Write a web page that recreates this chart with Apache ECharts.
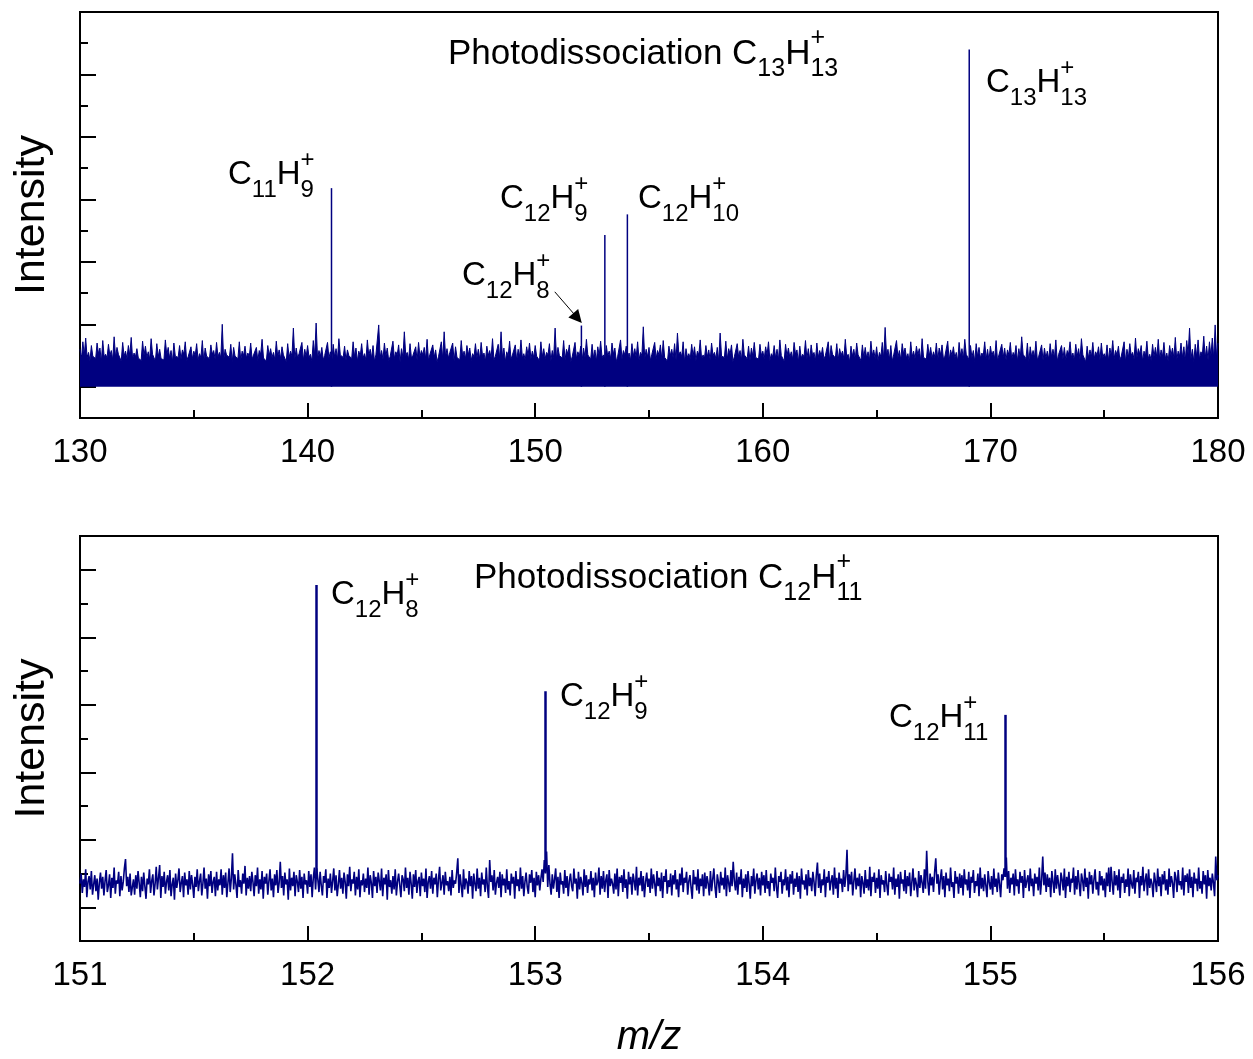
<!DOCTYPE html>
<html><head><meta charset="utf-8">
<script src="https://cdn.jsdelivr.net/npm/echarts@6/dist/echarts.min.js"></script>
<style>html,body{margin:0;padding:0;background:#fff}#c{width:1253px;height:1059px}</style>
</head><body><div id="c"></div>
<script>
// ---------- data (top: 100 units = one major tick; bottom: 80 units = one major tick) ----------
// top spectrum: noise maxima sampled every 0.125 from m/z 130, minima between them
const topNoiseStart = 130, topNoiseStep = 0.125;
const topNoise = [
60,72,78,55,66,48,70,62,74,52,68,58,80,63,50,71,57,66,79,54,
61,49,73,65,56,77,52,69,60,47,75,63,58,70,51,66,59,72,48,64,
57,69,53,74,62,46,67,58,71,55,100,60,52,68,63,49,72,57,65,54,
70,51,63,58,76,49,66,61,55,73,59,64,48,69,57,94,62,53,71,60,
66,52,74,102,58,63,50,71,56,68,61,77,54,65,59,49,72,62,57,69,
53,75,60,66,51,99,58,70,62,48,73,56,67,61,88,55,69,50,64,71,
58,63,76,52,67,59,48,72,88,61,55,70,64,50,74,57,66,62,53,69,
60,71,54,65,58,77,49,68,88,62,56,73,51,67,60,75,53,64,70,57,
66,50,72,61,55,69,58,94,63,52,74,60,67,48,71,56,65,62,76,53,
68,59,64,73,51,66,57,70,62,49,75,58,65,54,69,61,72,55,96,60,
63,52,71,58,67,74,50,65,60,69,86,56,72,61,53,68,64,57,75,51,
66,59,70,55,63,86,52,73,61,67,48,69,58,76,54,65,62,71,50,68,
57,64,72,53,66,60,75,49,68,62,56,71,59,65,52,74,61,67,55,70,
58,63,50,72,66,54,69,61,57,76,52,65,60,70,48,67,63,56,73,59,
64,55,71,95,60,66,51,74,58,69,62,53,72,57,65,61,77,50,68,63,
56,70,62,67,49,73,59,64,55,71,61,76,52,66,58,69,63,54,72,60,
65,57,74,51,68,62,59,71,55,66,61,80,53,70,64,58,73,49,67,62,
57,69,60,75,52,66,63,58,72,54,68,61,77,50,65,59,71,56,64,70,
53,67,62,74,58,65,49,72,60,69,55,78,61,66,57,73,52,68,63,76,
59,71,54,66,62,79,57,70,64,74,94,60,68,75,56,81,65,72,78,99,
70];
const topTrough = [
44,51,47,42,49,45,53,40,48,46,50,43,47,52,41,49,45,50,44,48,
46,42,50,47,44,52,41,48,45,43,51,46,40,49,47,44,52,42,48,45,
50,43,47,41,49,45,52,44,48,46,42,51,47,40,49,45,43,50,46,48,
44,49,42,52,46,41,50,47,43,48,45,51,40,47,49,44,46,52,42,48,
47,41,50,45,49,43,52,46,40,48,44,51,47,42,50,45,48,41,49,46,
43,50,46,41,52,47,44,49,42,48,45,51,40,47,50,44,46,49,42,48,
51,45,42,49,47,40,50,44,48,46,52,41,47,43,49,45,51,42,48,46,
44,49,41,50,46,43,52,45,47,40,49,44,51,42,48,46,43,50,45,47,
49,42,48,45,51,41,47,44,50,46,43,52,40,48,45,49,42,47,51,44,
46,41,50,47,43,49,45,52,40,48,44,51,46,42,49,47,43,50,45,48,
42,49,45,51,44,47,41,50,46,43,52,48,40,47,45,49,42,51,44,46,
48,43,50,45,41,49,47,44,52,40,46,48,43,51,45,42,49,47,44,50,
45,51,42,48,46,43,50,41,49,47,44,52,40,46,48,45,43,50,42,47,
49,44,47,41,52,46,43,50,45,48,40,49,44,51,42,47,46,43,50,45,
42,48,45,50,44,41,49,47,43,52,46,40,48,45,51,42,47,44,49,46,
47,43,51,44,48,42,50,46,41,49,45,52,43,47,40,48,46,50,44,42,
50,45,42,48,47,43,51,44,49,41,46,52,45,40,48,47,43,50,42,46,
44,48,46,41,50,45,43,52,47,42,49,44,51,40,46,48,45,50,43,47,
46,42,49,45,51,43,48,40,47,50,44,46,52,41,49,45,42,48,47,44,
48,45,41,50,46,43,49,47,42,52,45,40,48,44,51,46,43,49,45,47];
const topPeakMz  = [141.05, 152.03, 153.06, 154.05, 169.07];
const topPeakInt = [318, 98, 243, 276, 540];

// bottom spectrum: sampled every 0.005 from m/z 151
const bottomNoiseStart = 151, bottomNoiseStep = 0.005;
const bottomNoise = [
28,40,17,33,24,45,12,30,37,21,43,15,27,38,19,34,9,29,41,22,36,14,31,44,18,
26,39,11,35,23,47,16,32,28,42,13,37,20,30,46,57,25,36,18,40,14,24,33,15,38,
22,43,29,12,36,19,41,25,10,34,27,45,17,31,39,14,28,48,21,35,50,11,37,24,42,
16,30,38,20,44,13,27,35,9,40,23,32,46,18,29,37,12,41,26,33,15,43,21,38,27,
11,36,24,45,19,31,40,14,28,47,22,34,10,39,25,43,17,30,36,13,42,20,33,26,45,
15,38,23,41,12,29,46,18,34,64,21,39,27,11,44,24,32,16,40,28,49,14,35,22,37,
19,42,30,13,38,25,47,16,33,21,43,10,36,28,40,15,31,45,20,34,12,39,26,44,17,
29,54,23,37,14,41,27,33,9,46,20,35,25,42,13,38,30,18,44,22,36,11,40,27,32,
16,43,24,39,12,35,47,21,46,33,18,42,26,14,37,29,45,11,34,23,40,17,31,46,20,
38,13,27,44,22,35,16,41,30,10,39,25,48,19,33,28,42,14,36,21,45,12,32,26,40,
18,34,23,47,15,38,29,11,43,25,36,17,41,31,20,46,13,35,27,39,9,44,24,32,16,
37,21,45,14,30,40,26,12,38,33,19,47,23,35,15,42,28,10,39,24,44,17,31,36,13,
41,25,34,18,46,11,30,37,22,43,16,35,27,40,12,33,48,20,29,38,15,42,26,31,19,
36,14,44,23,32,28,41,58,17,39,26,12,45,21,34,30,16,43,25,37,10,40,28,19,46,
22,35,13,41,27,33,18,47,24,11,56,30,38,20,44,15,29,36,23,42,12,39,26,34,17,
45,21,31,14,40,28,36,10,43,25,33,19,47,22,37,13,30,41,24,16,39,29,44,18,35,
12,42,26,38,20,34,45,30,56,40,66,24,50,28,15,39,22,33,46,18,36,11,41,27,31,
16,44,23,37,13,31,40,25,19,46,28,34,10,42,21,36,29,14,45,24,38,17,33,27,43,
20,35,12,41,26,30,47,15,37,22,43,18,32,39,11,44,25,34,28,16,40,21,46,13,36,
29,38,18,45,23,33,10,42,27,36,15,40,31,20,48,14,35,26,43,19,37,12,30,41,24,
34,17,46,22,39,28,13,43,25,35,19,41,11,37,30,45,16,32,24,40,14,38,27,44,21,
33,12,40,26,47,18,35,29,42,15,31,38,23,10,44,27,36,20,45,16,34,25,39,13,41,
22,37,28,14,43,19,33,46,24,11,39,30,17,42,26,35,21,47,13,38,29,18,44,25,54,
31,20,41,15,36,27,45,12,34,23,39,18,43,28,10,37,25,46,16,32,40,21,35,14,42,
26,38,17,44,22,31,13,40,29,35,19,47,24,11,37,30,42,16,33,26,45,20,36,12,39,
28,43,15,34,24,41,18,37,10,46,27,32,21,39,14,44,25,35,19,42,30,13,38,53,23,
40,17,33,26,45,12,36,29,43,20,31,38,15,47,22,35,11,41,28,34,18,44,24,37,68,
19,39,27,42,14,31,46,21,35,25,40,12,37,29,16,44,23,33,20,48,13,36,30,41,17,
35,22,45,11,38,27,32,18,43,26,14,40,30,36,21,47,15,34,24,39,10,42,28,33,19,
44,16,37,25,41,13,30,46,20,35,27,12,43,23,38,29,17,45,22,67,31,14,40,26,36,
18,42,58,28,39,15,33,45,21,37,12,41,26,34,19,47,24,30,11,43,28,36,16,40,23,
38,14,45,27,33,20,42,11,36,29,44,17,31,25,40,13,47,22,35,19,39,26,12,43,30,
21,37,15,46,24,34,18,41,28,12,39,32,46,36,59,22,43,17,35,27,40,14,45,25,33,
16,42,29,37,11,44,23,31,38,19,46,25,34,13,40,28,36,20,47,15,32,60,26,41,18,
39,24,35,12,43,30,17,45,22,38,27,14,41,33,20,46,11,36,25,42,18,34,29,47,15,
37,21,44,28,13,40,32,19,46,24,35,10,42,27,38,16,33,45,21,30,14,43,26,37,20,
34,12,41,25,47,18,48,30,15,43,26,38,20,45,11,36,29,40,17,33,24,46,13,39,28,
22,44,16,35,30,42,11,37,26,48,19,32,40,14,45,23,34,28,12,41,31,18,46,25,36,
13,39,27,43,20,33,15,46,24,37,29,11,42,35,18,44,26,31,21,47,14,38,30,40,17,
45,23,36,12,41,28,34,19,47,22,31,16,43,27,38,10,44,25,35,20,40,29,13,60,32,
38];
const bottomPeakMz   = [152.04, 153.046, 155.064];
const bottomPeakInt  = [382, 256, 228];
const bottomPeakBase = [36, 48, 36];

const topXRange = [130, 180], topXInterval = 10;
const bottomXRange = [151, 156], bottomXInterval = 1;
const topYRange = [-50, 600], bottomYRange = [-40, 440];
const topMajorY = [0, 100, 200, 300, 400, 500];
const topMinorY = [50, 150, 250, 350, 450, 550];
const bottomMajorY = [0, 80, 160, 240, 320, 400];
const bottomMinorY = [40, 120, 200, 280, 360];
const arrowFrom = [150.86, 152], arrowTo = [151.86, 110];

// ---------- chart ----------
const FONT = '"Liberation Sans", Arial, Helvetica, sans-serif';
const NAVY = '#000080';
const BLACK = '#000';

function xAxisCfg(grid, range, interval, extra) {
  return Object.assign({
    gridIndex: grid, type: 'value', min: range[0], max: range[1], interval: interval,
    position: 'bottom',
    axisLine: { show: true, onZero: false, lineStyle: { color: BLACK, width: 2 } },
    axisTick: { show: true, inside: true, length: 15, lineStyle: { color: BLACK, width: 2 } },
    minorTick: { show: true, splitNumber: 2, length: 8, lineStyle: { color: BLACK, width: 2 } },
    axisLabel: { show: true, margin: 18, fontSize: 33, fontFamily: FONT, color: BLACK },
    splitLine: { show: false }, minorSplitLine: { show: false }
  }, extra || {});
}
function yAxesCfg(grid, range, major, minor) {
  return [{
    gridIndex: grid, type: 'value', min: range[0], max: range[1], position: 'left',
    axisLine: { show: true, onZero: false, lineStyle: { color: BLACK, width: 2 } },
    axisTick: { show: true, inside: true, length: 16, lineStyle: { color: BLACK, width: 2 }, customValues: major },
    axisLabel: { show: false }, splitLine: { show: false },
    name: 'Intensity', nameLocation: 'middle', nameRotate: 90, nameGap: 26,
    nameTextStyle: { fontSize: 43, fontFamily: FONT, color: BLACK }
  }, {
    gridIndex: grid, type: 'value', min: range[0], max: range[1], position: 'left',
    axisLine: { show: false, onZero: false },
    axisTick: { show: true, inside: true, length: 8, lineStyle: { color: BLACK, width: 2 }, customValues: minor },
    axisLabel: { show: false }, splitLine: { show: false }
  }];
}

const RICH = {
  s: { font: '24px ' + FONT, fill: BLACK, lineHeight: 24, verticalAlign: 'bottom' },
  p: { font: '24px ' + FONT, fill: BLACK, lineHeight: 39, verticalAlign: 'top', width: 0 }
};
const RICH_T = {
  s: { font: '25px ' + FONT, fill: BLACK, lineHeight: 25, verticalAlign: 'bottom' },
  p: { font: '25px ' + FONT, fill: BLACK, lineHeight: 41, verticalAlign: 'top', width: 0 }
};
function chem(c, h) { return 'C{s|' + c + '}H{p|+}{s|' + h + '}'; }
const labels = [
  { t: 'Photodissociation ' + chem('13', '13'), x: 448, cy: 54, title: true },
  { t: chem('11', '9'),  x: 228, cy: 175 },
  { t: chem('12', '9'),  x: 500, cy: 199 },
  { t: chem('12', '10'), x: 638, cy: 199 },
  { t: chem('12', '8'),  x: 462, cy: 276 },
  { t: chem('13', '13'), x: 986, cy: 83 },
  { t: 'Photodissociation ' + chem('12', '11'), x: 474, cy: 578, title: true },
  { t: chem('12', '8'),  x: 331, cy: 595 },
  { t: chem('12', '9'),  x: 560, cy: 697 },
  { t: chem('12', '11'), x: 889, cy: 718 }
];

const topNoiseData = [];
topNoise.forEach((v, i) => {
  topNoiseData.push([topNoiseStart + i * topNoiseStep, v]);
  if (i < topTrough.length) topNoiseData.push([topNoiseStart + (i + 0.5) * topNoiseStep, topTrough[i]]);
});

const chart = echarts.init(document.getElementById('c'), null, { renderer: 'canvas' });
chart.setOption({
  animation: false,
  backgroundColor: '#fff',
  grid: [
    { left: 80, top: 12, width: 1138, height: 406, show: true, borderColor: BLACK, borderWidth: 2, backgroundColor: 'transparent' },
    { left: 80, top: 536, width: 1138, height: 407, show: true, borderColor: BLACK, borderWidth: 2, backgroundColor: 'transparent' }
  ],
  xAxis: [
    xAxisCfg(0, topXRange, topXInterval),
    xAxisCfg(1, bottomXRange, bottomXInterval, {
      name: 'm/z', nameLocation: 'middle', nameGap: 77,
      nameTextStyle: { fontSize: 40, fontStyle: 'italic', fontFamily: FONT, color: BLACK }
    })
  ],
  yAxis: yAxesCfg(0, topYRange, topMajorY, topMinorY).concat(yAxesCfg(1, bottomYRange, bottomMajorY, bottomMinorY)),
  series: [
    {
      type: 'line', xAxisIndex: 0, yAxisIndex: 0, showSymbol: false, silent: true,
      data: topNoiseData,
      lineStyle: { color: NAVY, width: 1 }, itemStyle: { color: NAVY },
      areaStyle: { color: NAVY, opacity: 1 }
    },
    {
      type: 'bar', xAxisIndex: 0, yAxisIndex: 0, barWidth: 1.5, silent: true,
      data: topPeakMz.map((m, i) => [m, topPeakInt[i]]),
      itemStyle: { color: NAVY },
      markLine: {
        silent: true, symbol: ['none', 'triangle'], symbolSize: 13,
        lineStyle: { color: BLACK, width: 1, type: 'solid' }, itemStyle: { color: BLACK }, label: { show: false },
        data: [[{ coord: arrowFrom }, { coord: arrowTo }]]
      }
    },
    {
      type: 'line', xAxisIndex: 1, yAxisIndex: 2, showSymbol: false, silent: true,
      data: bottomNoise.map((v, i) => [bottomNoiseStart + i * bottomNoiseStep, v]),
      lineStyle: { color: NAVY, width: 1.6, join: 'miter', miterLimit: 4 }, itemStyle: { color: NAVY },
      markLine: {
        silent: true, symbol: ['none', 'none'],
        lineStyle: { color: NAVY, width: 2.5, type: 'solid' }, label: { show: false },
        data: bottomPeakMz.map((m, i) => [{ coord: [m, bottomPeakBase[i]] }, { coord: [m, bottomPeakInt[i]] }])
      }
    }
  ],
  graphic: labels.map(l => ({
    type: 'text', x: l.x, y: l.cy - (l.title ? 28 : 27), silent: true,
    style: {
      text: l.t, font: (l.title ? '35px ' : '33px ') + FONT, fill: BLACK,
      lineHeight: l.title ? 56 : 54, align: 'left', verticalAlign: 'top', rich: l.title ? RICH_T : RICH
    }
  }))
});
</script></body></html>
